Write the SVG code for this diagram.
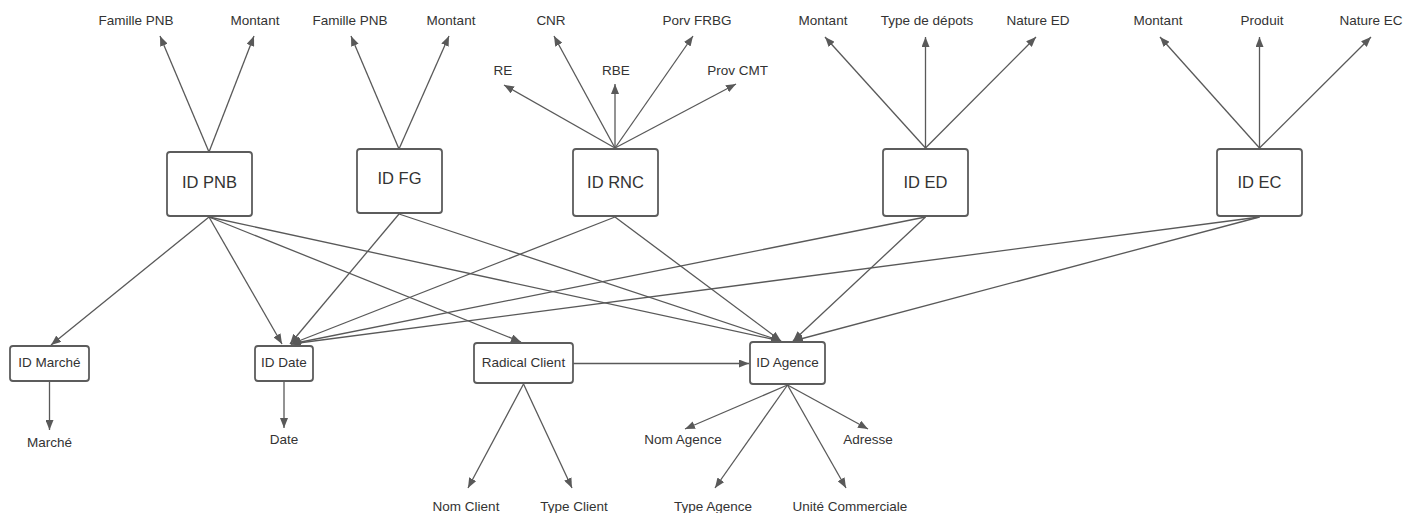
<svg xmlns="http://www.w3.org/2000/svg" width="1403" height="513" viewBox="0 0 1403 513">
  <defs>
    <marker id="arrow" viewBox="0 0 10 8" refX="10" refY="4" markerWidth="10" markerHeight="8" markerUnits="userSpaceOnUse" orient="auto">
      <path d="M0,0 L10,4 L0,8 z" fill="#595959"/>
    </marker>
    <style>
      .box { fill: #ffffff; stroke: #5c5c5c; stroke-width: 1.8; }
      .big { font-family: "Liberation Sans", Arial, sans-serif; font-size: 16.5px; fill: #333333; text-anchor: middle; }
      .small { font-family: "Liberation Sans", Arial, sans-serif; font-size: 13.5px; fill: #333333; text-anchor: middle; }
      .edge { stroke: #595959; stroke-width: 1.3; fill: none; marker-end: url(#arrow); }
    </style>
  </defs>
  <rect width="1403" height="513" fill="#ffffff"/>

  <!-- connectors -->
  <g id="connectors">
    <!-- attribute links, upper row -->
    <line class="edge" x1="209" y1="152" x2="160" y2="36"/>
    <line class="edge" x1="209" y1="152" x2="254" y2="36"/>
    <line class="edge" x1="399" y1="149" x2="351" y2="36"/>
    <line class="edge" x1="399" y1="149" x2="449" y2="36"/>
    <line class="edge" x1="615" y1="148" x2="504" y2="85"/>
    <line class="edge" x1="615" y1="148" x2="554" y2="36"/>
    <line class="edge" x1="615" y1="148" x2="615" y2="84"/>
    <line class="edge" x1="615" y1="148" x2="693" y2="36"/>
    <line class="edge" x1="615" y1="148" x2="736" y2="84"/>
    <line class="edge" x1="925.5" y1="148" x2="825" y2="37"/>
    <line class="edge" x1="925.5" y1="148" x2="925.5" y2="37"/>
    <line class="edge" x1="925.5" y1="148" x2="1036" y2="37"/>
    <line class="edge" x1="1259.5" y1="148" x2="1160" y2="37"/>
    <line class="edge" x1="1259.5" y1="148" x2="1259.5" y2="37"/>
    <line class="edge" x1="1259.5" y1="148" x2="1371" y2="37"/>

    <!-- fact to dimension links -->
    <line class="edge" x1="209" y1="217" x2="51" y2="345"/>
    <line class="edge" x1="209" y1="217" x2="282" y2="344"/>
    <line class="edge" x1="209" y1="217" x2="521" y2="342"/>
    <line class="edge" x1="209" y1="217" x2="781" y2="341"/>
    <line class="edge" x1="399" y1="214" x2="290" y2="344"/>
    <line class="edge" x1="399" y1="214" x2="781" y2="341"/>
    <line class="edge" x1="615" y1="217" x2="291" y2="344"/>
    <line class="edge" x1="615" y1="217" x2="781" y2="341"/>
    <line class="edge" x1="925.5" y1="217" x2="291" y2="344"/>
    <line class="edge" x1="925.5" y1="217" x2="793" y2="341"/>
    <line class="edge" x1="1259.5" y1="217" x2="291" y2="344"/>
    <line class="edge" x1="1259.5" y1="217" x2="793" y2="341"/>

    <!-- dimension attributes -->
    <line class="edge" x1="49.5" y1="382" x2="49.5" y2="430"/>
    <line class="edge" x1="284" y1="382" x2="284" y2="428"/>
    <line class="edge" x1="573" y1="363.5" x2="749" y2="363.5"/>
    <line class="edge" x1="523.5" y1="384" x2="468" y2="488"/>
    <line class="edge" x1="523.5" y1="384" x2="572" y2="488"/>
    <line class="edge" x1="787.5" y1="385" x2="685" y2="429"/>
    <line class="edge" x1="787.5" y1="385" x2="868" y2="429"/>
    <line class="edge" x1="787.5" y1="385" x2="715" y2="488"/>
    <line class="edge" x1="787.5" y1="385" x2="846" y2="488"/>
  </g>

  <!-- fact nodes -->
  <g id="node-id-pnb">
    <rect class="box" x="167" y="152" width="85" height="64" rx="3"/>
    <text class="big" x="209.5" y="187.5">ID PNB</text>
  </g>
  <g id="node-id-fg">
    <rect class="box" x="357" y="149" width="85" height="64" rx="3"/>
    <text class="big" x="399.5" y="184">ID FG</text>
  </g>
  <g id="node-id-rnc">
    <rect class="box" x="573" y="149" width="85" height="67" rx="3"/>
    <text class="big" x="615.5" y="187.5">ID RNC</text>
  </g>
  <g id="node-id-ed">
    <rect class="box" x="883" y="149" width="85" height="67" rx="3"/>
    <text class="big" x="925.5" y="187.5">ID ED</text>
  </g>
  <g id="node-id-ec">
    <rect class="box" x="1217" y="149" width="85" height="67" rx="3"/>
    <text class="big" x="1259.5" y="187.5">ID EC</text>
  </g>

  <!-- dimension nodes -->
  <g id="node-id-marche">
    <rect class="box" x="10" y="346" width="79" height="35" rx="3"/>
    <text class="small" x="49.5" y="367">ID Marché</text>
  </g>
  <g id="node-id-date">
    <rect class="box" x="255" y="346" width="58" height="35" rx="3"/>
    <text class="small" x="284" y="366.5">ID Date</text>
  </g>
  <g id="node-radical-client">
    <rect class="box" x="474" y="343" width="99" height="40" rx="3"/>
    <text class="small" x="523.5" y="367">Radical Client</text>
  </g>
  <g id="node-id-agence">
    <rect class="box" x="750" y="342" width="75" height="42" rx="3"/>
    <text class="small" x="787.5" y="366.5">ID Agence</text>
  </g>

  <!-- attribute labels -->
  <g id="node-famille-pnb-1"><text class="small" x="136" y="25">Famille PNB</text></g>
  <g id="node-montant-1"><text class="small" x="255" y="25">Montant</text></g>
  <g id="node-famille-pnb-2"><text class="small" x="350" y="25">Famille PNB</text></g>
  <g id="node-montant-2"><text class="small" x="451" y="25">Montant</text></g>
  <g id="node-cnr"><text class="small" x="551" y="25">CNR</text></g>
  <g id="node-porv-frbg"><text class="small" x="697" y="25">Porv FRBG</text></g>
  <g id="node-re"><text class="small" x="503" y="75">RE</text></g>
  <g id="node-rbe"><text class="small" x="616" y="75">RBE</text></g>
  <g id="node-prov-cmt"><text class="small" x="737.5" y="75">Prov CMT</text></g>
  <g id="node-montant-3"><text class="small" x="823" y="25">Montant</text></g>
  <g id="node-type-depots"><text class="small" x="927" y="25">Type de dépots</text></g>
  <g id="node-nature-ed"><text class="small" x="1038" y="25">Nature ED</text></g>
  <g id="node-montant-4"><text class="small" x="1158" y="25">Montant</text></g>
  <g id="node-produit"><text class="small" x="1262" y="25">Produit</text></g>
  <g id="node-nature-ec"><text class="small" x="1371" y="25">Nature EC</text></g>

  <g id="node-marche"><text class="small" x="49.5" y="447">Marché</text></g>
  <g id="node-date"><text class="small" x="284" y="444">Date</text></g>
  <g id="node-nom-client"><text class="small" x="466" y="510.5">Nom Client</text></g>
  <g id="node-type-client"><text class="small" x="574" y="510.5">Type Client</text></g>
  <g id="node-nom-agence"><text class="small" x="683" y="444">Nom Agence</text></g>
  <g id="node-adresse"><text class="small" x="868" y="444">Adresse</text></g>
  <g id="node-type-agence"><text class="small" x="713" y="510.5">Type Agence</text></g>
  <g id="node-unite-commerciale"><text class="small" x="850" y="510.5">Unité Commerciale</text></g>
</svg>
